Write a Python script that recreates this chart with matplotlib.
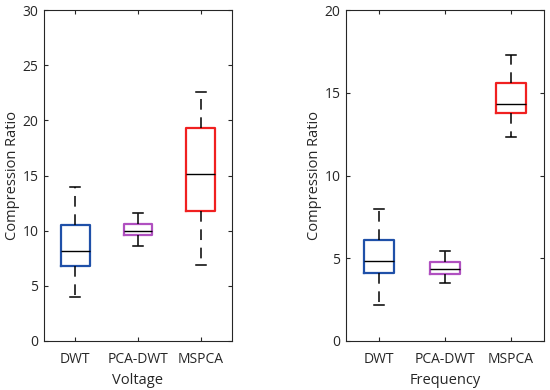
import matplotlib
matplotlib.use('Agg')
import matplotlib.pyplot as plt

plt.rcParams['font.family'] = ['Open Sans', 'DejaVu Sans']

methods = ['DWT', 'PCA-DWT', 'MSPCA']
colors = ['#1f50a8', '#b050c0', '#f02020']

# voltage: whisker low, q1, median, q3, whisker high
volt_low = [4.0, 8.6, 6.9]
volt_q1 = [6.8, 9.6, 11.8]
volt_med = [8.2, 10.0, 15.1]
volt_q3 = [10.5, 10.6, 19.3]
volt_high = [14.0, 11.6, 22.6]

freq_low = [2.2, 3.5, 12.3]
freq_q1 = [4.1, 4.05, 13.8]
freq_med = [4.85, 4.35, 14.3]
freq_q3 = [6.1, 4.75, 15.6]
freq_high = [8.0, 5.45, 17.3]


def draw(ax, low, q1, med, q3, high, ylim, yticks, xlabel):
    stats = []
    for i in range(len(methods)):
        stats.append({'whislo': low[i], 'q1': q1[i], 'med': med[i],
                      'q3': q3[i], 'whishi': high[i], 'fliers': []})
    bp = ax.bxp(stats, positions=[1, 2, 3], widths=0.46, showfliers=False,
                medianprops={'color': 'black', 'linewidth': 1.0},
                whiskerprops={'color': 'black', 'linestyle': (0, (7, 5)), 'linewidth': 1.1},
                capprops={'color': 'black', 'linewidth': 1.1},
                boxprops={'linewidth': 1.6})
    for box, c in zip(bp['boxes'], colors):
        box.set_color(c)
    for cap in bp['caps']:
        x = cap.get_xdata()
        m = (x[0] + x[1]) / 2
        cap.set_xdata([m - 0.08, m + 0.08])
    ax.set_xlim(0.5, 3.5)
    ax.set_ylim(*ylim)
    ax.set_yticks(yticks)
    ax.set_xticks([1, 2, 3])
    ax.set_xticklabels(methods)
    ax.set_ylabel('Compression Ratio', color='#262626', fontsize=10.5, labelpad=2)
    ax.set_xlabel(xlabel, color='#262626', fontsize=10.5, labelpad=4)
    ax.tick_params(direction='in', top=True, right=True, colors='#262626',
                   labelsize=10, length=3)
    ax.tick_params(axis='x', pad=8)
    ax.tick_params(axis='y', pad=4)
    for s in ax.spines.values():
        s.set_color('#262626')
        s.set_linewidth(0.8)


fig = plt.figure(figsize=(5.5, 3.9), dpi=100)
ax1 = fig.add_axes([44 / 550, 49 / 390, 188 / 550, 331 / 390])
ax2 = fig.add_axes([346 / 550, 49 / 390, 198 / 550, 331 / 390])
draw(ax1, volt_low, volt_q1, volt_med, volt_q3, volt_high, (0, 30), range(0, 31, 5), 'Voltage')
draw(ax2, freq_low, freq_q1, freq_med, freq_q3, freq_high, (0, 20), range(0, 21, 5), 'Frequency')
fig.savefig('out.png', dpi=100)
